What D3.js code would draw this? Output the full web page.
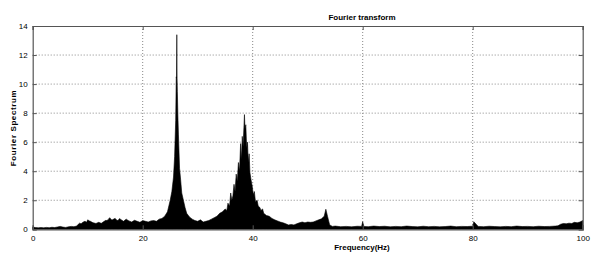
<!DOCTYPE html>
<html><head><meta charset="utf-8">
<script src="https://cdn.jsdelivr.net/npm/d3@7"></script>
<style>
html,body{margin:0;padding:0;background:#fff;}
svg text{font-family:"Liberation Sans",Arial,sans-serif;fill:#000;}
</style></head>
<body><svg id="c" width="595" height="253"></svg>
<script>
// Data (frequency in Hz, Fourier spectrum amplitude)
const freq = [0,0.5,1,1.5,2,2.5,3,3.5,4,4.5,5,5.5,6,6.5,7,7.5,8,8.3,8.5,8.8,9,9.3,9.5,9.8,10,10.3,10.5,10.8,11,11.5,12,12.3,12.5,13,13.3,13.5,13.8,14,14.3,14.5,14.8,15,15.3,15.5,15.8,16,16.5,17,17.3,17.5,18,18.5,19,19.5,20,20.5,21,21.5,22,22.5,23,23.5,24,24.5,25,25.3,25.6,25.8,26.0,26.1,26.15,26.2,26.25,26.3,26.4,26.5,26.7,26.9,27.1,27.4,27.7,28,28.5,29,29.5,30,30.5,31,31.5,32,32.5,33,33.5,34,34.5,35,35.3,35.5,35.8,36,36.2,36.4,36.6,36.8,37,37.2,37.4,37.6,37.8,37.95,38.1,38.25,38.4,38.5,38.6,38.75,38.9,39.05,39.2,39.35,39.5,39.7,39.9,40.1,40.3,40.5,40.8,41,41.3,41.5,41.8,42,42.5,43,43.5,44,44.5,45,45.5,46,46.5,47,47.5,48,48.5,49,49.5,50,50.5,51,51.5,52,52.5,53,53.3,53.6,54,54.5,55,56,57,58,59,59.8,60,60.2,61,62,63,64,65,66,67,68,69,70,71,72,73,74,75,76,77,78,79,79.8,80,80.2,81,82,83,84,85,86,87,88,89,90,91,92,93,94,95,95.5,96,96.5,97,97.5,98,98.5,99,99.5,100];
const amp = [0.15,0.12,0.10,0.12,0.10,0.13,0.11,0.14,0.12,0.16,0.20,0.15,0.13,0.17,0.20,0.18,0.22,0.35,0.42,0.38,0.45,0.52,0.55,0.48,0.65,0.58,0.55,0.48,0.45,0.40,0.48,0.44,0.42,0.55,0.62,0.60,0.70,0.80,0.66,0.65,0.72,0.75,0.62,0.60,0.74,0.68,0.55,0.70,0.62,0.58,0.50,0.62,0.55,0.48,0.60,0.55,0.50,0.58,0.60,0.55,0.70,0.75,0.90,1.20,2.00,2.60,3.60,5.00,7.50,10.50,10.40,13.40,10.40,9.50,7.80,6.50,4.20,3.40,2.50,2.00,1.50,1.10,0.85,0.70,0.60,0.55,0.65,0.50,0.55,0.60,0.70,0.80,0.90,1.10,1.20,1.40,1.30,1.80,1.60,2.50,2.00,2.30,3.10,2.60,3.80,3.30,4.60,4.00,5.90,4.80,6.40,5.70,7.00,7.90,6.90,7.20,5.60,6.00,4.60,5.20,3.90,3.40,3.00,2.40,2.60,1.90,2.00,1.60,1.50,1.30,1.40,1.10,0.95,0.90,0.75,0.65,0.58,0.50,0.45,0.38,0.30,0.33,0.30,0.38,0.45,0.50,0.45,0.50,0.48,0.50,0.58,0.65,0.72,0.90,1.38,0.90,0.30,0.20,0.22,0.18,0.20,0.17,0.21,0.20,0.52,0.20,0.18,0.22,0.19,0.21,0.17,0.20,0.18,0.22,0.19,0.17,0.21,0.18,0.20,0.17,0.19,0.22,0.18,0.20,0.19,0.21,0.20,0.52,0.20,0.18,0.21,0.19,0.17,0.20,0.18,0.22,0.19,0.20,0.18,0.21,0.19,0.20,0.22,0.24,0.35,0.40,0.38,0.42,0.40,0.48,0.45,0.50,0.60,0.55];
const xTicks = [0,20,40,60,80,100];
const yTicks = [0,2,4,6,8,10,12,14];
const title = "Fourier transform";
const xLabel = "Frequency(Hz)";
const yLabel = "Fourier Spectrum";

(function(){
const svg = d3.select("#c");
const L = 32.7, R = 582.7, T = 26, B = 229.3;
const x = d3.scaleLinear().domain([0,100]).range([L,R]);
const y = d3.scaleLinear().domain([0,14]).range([B,T]);

// grid
const g = svg.append("g");
g.selectAll(".gx").data(xTicks.filter(d=>d>0&&d<100)).enter().append("line")
  .attr("x1",d=>x(d)).attr("x2",d=>x(d)).attr("y1",T).attr("y2",B)
  .attr("stroke","#888").attr("stroke-width",1).attr("stroke-dasharray","1,2");
g.selectAll(".gy").data(yTicks.filter(d=>d>0&&d<14)).enter().append("line")
  .attr("x1",L).attr("x2",R).attr("y1",d=>y(d)).attr("y2",d=>y(d))
  .attr("stroke","#888").attr("stroke-width",1).attr("stroke-dasharray","1,2");

// spectrum
const data = freq.map((f,i)=>({f, a:amp[i]}));
svg.append("path").datum(data)
  .attr("d", d3.area().x(d=>x(d.f)).y0(y(0)).y1(d=>y(d.a)))
  .attr("fill","#000").attr("stroke","#000").attr("stroke-width",0.6);

// axes (ticks inward, all sides)
const ax = svg.append("g").attr("font-size",8);
ax.append("g").attr("transform",`translate(0,${B})`)
  .call(d3.axisBottom(x).tickValues(xTicks).tickSize(-4).tickPadding(6).tickFormat(d3.format("d")));
ax.append("g").attr("transform",`translate(0,${T})`)
  .call(d3.axisTop(x).tickValues(xTicks).tickSize(-4).tickFormat(""));
ax.append("g").attr("transform",`translate(${L},0)`)
  .call(d3.axisLeft(y).tickValues(yTicks).tickSize(-4).tickPadding(5).tickFormat(d3.format("d")));
ax.append("g").attr("transform",`translate(${R},0)`)
  .call(d3.axisRight(y).tickValues(yTicks).tickSize(-4).tickFormat(""));
ax.selectAll(".domain").attr("stroke","#555").attr("stroke-width",1.2);
ax.selectAll(".tick line").attr("stroke","#555");
ax.selectAll("text").attr("font-family","Liberation Sans, Arial, sans-serif").attr("font-size",8).attr("fill","#222");

svg.append("text").attr("x",362).attr("y",20).attr("text-anchor","middle")
  .attr("font-size",8).attr("font-weight","bold").text(title);
svg.append("text").attr("x",362).attr("y",250).attr("text-anchor","middle")
  .attr("font-size",8).attr("font-weight","bold").text(xLabel);
svg.append("text").attr("transform","translate(16,128) rotate(-90)").attr("text-anchor","middle")
  .attr("font-size",8).attr("font-weight","bold").attr("letter-spacing","0.6").text(yLabel);
})();
</script></body></html>
